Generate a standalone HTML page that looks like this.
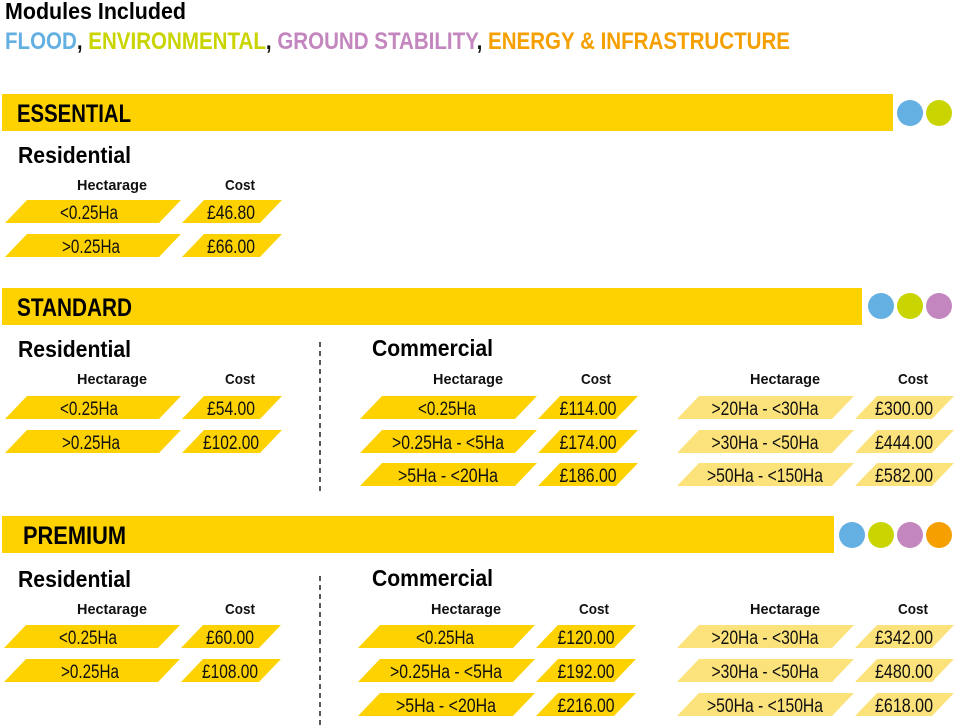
<!DOCTYPE html>
<html><head><meta charset="utf-8"><style>
html,body{margin:0;padding:0;background:#fff;width:954px;height:728px;overflow:hidden}
text{font-family:"Liberation Sans",sans-serif}
.b{font-weight:bold}
.c{font-size:19px;fill:#111;text-anchor:middle}
.h{font-size:15px;font-weight:bold;text-anchor:middle;fill:#111}
.y{fill:#FDD200}.l{fill:#FCE27A}
</style></head><body>
<svg width="954" height="728" viewBox="0 0 954 728" xmlns="http://www.w3.org/2000/svg">
<text x="5" y="19" class="b" font-size="23" textLength="181" lengthAdjust="spacingAndGlyphs">Modules Included</text>
<text x="5" y="49" class="b" font-size="24" textLength="785" lengthAdjust="spacingAndGlyphs"><tspan fill="#64B0E2">FLOOD</tspan><tspan fill="#111">, </tspan><tspan fill="#C9D400">ENVIRONMENTAL</tspan><tspan fill="#111">, </tspan><tspan fill="#C486BE">GROUND STABILITY</tspan><tspan fill="#111">, </tspan><tspan fill="#F5A000">ENERGY &amp; INFRASTRUCTURE</tspan></text>

<!-- ESSENTIAL -->
<rect x="2" y="94" width="891" height="37" class="y"/>
<circle cx="910" cy="113" r="13" fill="#64B0E2"/><circle cx="939" cy="113" r="13" fill="#C9D400"/>
<text x="17" y="122" class="b" font-size="25" textLength="114" lengthAdjust="spacingAndGlyphs">ESSENTIAL</text>
<text x="18" y="163" class="b" font-size="23" textLength="113" lengthAdjust="spacingAndGlyphs">Residential</text>
<text x="112" y="190" class="h" textLength="70" lengthAdjust="spacingAndGlyphs">Hectarage</text>
<text x="240" y="190" class="h" textLength="30" lengthAdjust="spacingAndGlyphs">Cost</text>
<polygon class="y" points="27,200 181,200 159,223 5,223"/><polygon class="y" points="204,200 282,200 260,223 182,223"/>
<text x="89" y="219" class="c" textLength="58" lengthAdjust="spacingAndGlyphs">&lt;0.25Ha</text><text x="231" y="219" class="c" textLength="48" lengthAdjust="spacingAndGlyphs">£46.80</text>
<polygon class="y" points="27,234 181,234 159,257 5,257"/><polygon class="y" points="204,234 282,234 260,257 182,257"/>
<text x="91" y="253" class="c" textLength="58" lengthAdjust="spacingAndGlyphs">&gt;0.25Ha</text><text x="231" y="253" class="c" textLength="48" lengthAdjust="spacingAndGlyphs">£66.00</text>

<!-- STANDARD -->
<rect x="2" y="288" width="860" height="37" class="y"/>
<circle cx="881" cy="306" r="13" fill="#64B0E2"/><circle cx="910" cy="306" r="13" fill="#C9D400"/><circle cx="939" cy="306" r="13" fill="#C486BE"/>
<text x="17" y="316" class="b" font-size="25" textLength="115" lengthAdjust="spacingAndGlyphs">STANDARD</text>
<text x="18" y="357" class="b" font-size="23" textLength="113" lengthAdjust="spacingAndGlyphs">Residential</text>
<text x="372" y="356" class="b" font-size="23" textLength="121" lengthAdjust="spacingAndGlyphs">Commercial</text>
<line x1="320" y1="342" x2="320" y2="492" stroke="#222" stroke-width="1.5" stroke-dasharray="5,4"/>
<text x="112" y="384" class="h" textLength="70" lengthAdjust="spacingAndGlyphs">Hectarage</text>
<text x="240" y="384" class="h" textLength="30" lengthAdjust="spacingAndGlyphs">Cost</text>
<text x="468" y="384" class="h" textLength="70" lengthAdjust="spacingAndGlyphs">Hectarage</text>
<text x="596" y="384" class="h" textLength="30" lengthAdjust="spacingAndGlyphs">Cost</text>
<text x="785" y="384" class="h" textLength="70" lengthAdjust="spacingAndGlyphs">Hectarage</text>
<text x="913" y="384" class="h" textLength="30" lengthAdjust="spacingAndGlyphs">Cost</text>
<polygon class="y" points="27,396 181,396 159,419 5,419"/><polygon class="y" points="204,396 282,396 260,419 182,419"/>
<text x="89" y="415" class="c" textLength="58" lengthAdjust="spacingAndGlyphs">&lt;0.25Ha</text><text x="231" y="415" class="c" textLength="48" lengthAdjust="spacingAndGlyphs">£54.00</text>
<polygon class="y" points="27,430 181,430 159,453 5,453"/><polygon class="y" points="204,430 282,430 260,453 182,453"/>
<text x="91" y="449" class="c" textLength="58" lengthAdjust="spacingAndGlyphs">&gt;0.25Ha</text><text x="231" y="449" class="c" textLength="56" lengthAdjust="spacingAndGlyphs">£102.00</text>
<polygon class="y" points="382,396 537,396 515,419 360,419"/><polygon class="y" points="560,396 638,396 616,419 538,419"/>
<text x="447" y="415" class="c" textLength="58" lengthAdjust="spacingAndGlyphs">&lt;0.25Ha</text><text x="588" y="415" class="c" textLength="57" lengthAdjust="spacingAndGlyphs">£114.00</text>
<polygon class="y" points="382,430 537,430 515,453 360,453"/><polygon class="y" points="560,430 638,430 616,453 538,453"/>
<text x="448" y="449" class="c" textLength="112" lengthAdjust="spacingAndGlyphs">&gt;0.25Ha - &lt;5Ha</text><text x="588" y="449" class="c" textLength="57" lengthAdjust="spacingAndGlyphs">£174.00</text>
<polygon class="y" points="382,463 537,463 515,486 360,486"/><polygon class="y" points="560,463 638,463 616,486 538,486"/>
<text x="448" y="482" class="c" textLength="100" lengthAdjust="spacingAndGlyphs">&gt;5Ha - &lt;20Ha</text><text x="588" y="482" class="c" textLength="57" lengthAdjust="spacingAndGlyphs">£186.00</text>
<polygon class="l" points="699,396 854,396 832,419 677,419"/><polygon class="l" points="877,396 954,396 932,419 855,419"/>
<text x="765" y="415" class="c" textLength="107" lengthAdjust="spacingAndGlyphs">&gt;20Ha - &lt;30Ha</text><text x="904" y="415" class="c" textLength="58" lengthAdjust="spacingAndGlyphs">£300.00</text>
<polygon class="l" points="699,430 854,430 832,453 677,453"/><polygon class="l" points="877,430 954,430 932,453 855,453"/>
<text x="765" y="449" class="c" textLength="107" lengthAdjust="spacingAndGlyphs">&gt;30Ha - &lt;50Ha</text><text x="904" y="449" class="c" textLength="58" lengthAdjust="spacingAndGlyphs">£444.00</text>
<polygon class="l" points="699,463 854,463 832,486 677,486"/><polygon class="l" points="877,463 954,463 932,486 855,486"/>
<text x="765" y="482" class="c" textLength="116" lengthAdjust="spacingAndGlyphs">&gt;50Ha - &lt;150Ha</text><text x="904" y="482" class="c" textLength="58" lengthAdjust="spacingAndGlyphs">£582.00</text>

<!-- PREMIUM -->
<rect x="2" y="516" width="832" height="37" class="y"/>
<circle cx="852" cy="535" r="13" fill="#64B0E2"/><circle cx="881" cy="535" r="13" fill="#C9D400"/><circle cx="910" cy="535" r="13" fill="#C486BE"/><circle cx="939" cy="535" r="13" fill="#F5A000"/>
<text x="23" y="544" class="b" font-size="25" textLength="103" lengthAdjust="spacingAndGlyphs">PREMIUM</text>
<text x="18" y="587" class="b" font-size="23" textLength="113" lengthAdjust="spacingAndGlyphs">Residential</text>
<text x="372" y="586" class="b" font-size="23" textLength="121" lengthAdjust="spacingAndGlyphs">Commercial</text>
<line x1="320" y1="576" x2="320" y2="728" stroke="#222" stroke-width="1.5" stroke-dasharray="5,4"/>
<text x="112" y="614" class="h" textLength="70" lengthAdjust="spacingAndGlyphs">Hectarage</text>
<text x="240" y="614" class="h" textLength="30" lengthAdjust="spacingAndGlyphs">Cost</text>
<text x="466" y="614" class="h" textLength="70" lengthAdjust="spacingAndGlyphs">Hectarage</text>
<text x="594" y="614" class="h" textLength="30" lengthAdjust="spacingAndGlyphs">Cost</text>
<text x="785" y="614" class="h" textLength="70" lengthAdjust="spacingAndGlyphs">Hectarage</text>
<text x="913" y="614" class="h" textLength="30" lengthAdjust="spacingAndGlyphs">Cost</text>
<polygon class="y" points="26,625 180,625 158,648 4,648"/><polygon class="y" points="203,625 281,625 259,648 181,648"/>
<text x="88" y="644" class="c" textLength="58" lengthAdjust="spacingAndGlyphs">&lt;0.25Ha</text><text x="230" y="644" class="c" textLength="48" lengthAdjust="spacingAndGlyphs">£60.00</text>
<polygon class="y" points="26,659 180,659 158,682 4,682"/><polygon class="y" points="203,659 281,659 259,682 181,682"/>
<text x="90" y="678" class="c" textLength="58" lengthAdjust="spacingAndGlyphs">&gt;0.25Ha</text><text x="230" y="678" class="c" textLength="56" lengthAdjust="spacingAndGlyphs">£108.00</text>
<polygon class="y" points="380,625 535,625 513,648 358,648"/><polygon class="y" points="558,625 636,625 614,648 536,648"/>
<text x="445" y="644" class="c" textLength="58" lengthAdjust="spacingAndGlyphs">&lt;0.25Ha</text><text x="586" y="644" class="c" textLength="57" lengthAdjust="spacingAndGlyphs">£120.00</text>
<polygon class="y" points="380,659 535,659 513,682 358,682"/><polygon class="y" points="558,659 636,659 614,682 536,682"/>
<text x="446" y="678" class="c" textLength="112" lengthAdjust="spacingAndGlyphs">&gt;0.25Ha - &lt;5Ha</text><text x="586" y="678" class="c" textLength="57" lengthAdjust="spacingAndGlyphs">£192.00</text>
<polygon class="y" points="380,693 535,693 513,716 358,716"/><polygon class="y" points="558,693 636,693 614,716 536,716"/>
<text x="446" y="712" class="c" textLength="100" lengthAdjust="spacingAndGlyphs">&gt;5Ha - &lt;20Ha</text><text x="586" y="712" class="c" textLength="57" lengthAdjust="spacingAndGlyphs">£216.00</text>
<polygon class="l" points="699,625 854,625 832,648 677,648"/><polygon class="l" points="877,625 954,625 932,648 855,648"/>
<text x="765" y="644" class="c" textLength="107" lengthAdjust="spacingAndGlyphs">&gt;20Ha - &lt;30Ha</text><text x="904" y="644" class="c" textLength="58" lengthAdjust="spacingAndGlyphs">£342.00</text>
<polygon class="l" points="699,659 854,659 832,682 677,682"/><polygon class="l" points="877,659 954,659 932,682 855,682"/>
<text x="765" y="678" class="c" textLength="107" lengthAdjust="spacingAndGlyphs">&gt;30Ha - &lt;50Ha</text><text x="904" y="678" class="c" textLength="58" lengthAdjust="spacingAndGlyphs">£480.00</text>
<polygon class="l" points="699,693 854,693 832,716 677,716"/><polygon class="l" points="877,693 954,693 932,716 855,716"/>
<text x="765" y="712" class="c" textLength="116" lengthAdjust="spacingAndGlyphs">&gt;50Ha - &lt;150Ha</text><text x="904" y="712" class="c" textLength="58" lengthAdjust="spacingAndGlyphs">£618.00</text>
</svg>
</body></html>
